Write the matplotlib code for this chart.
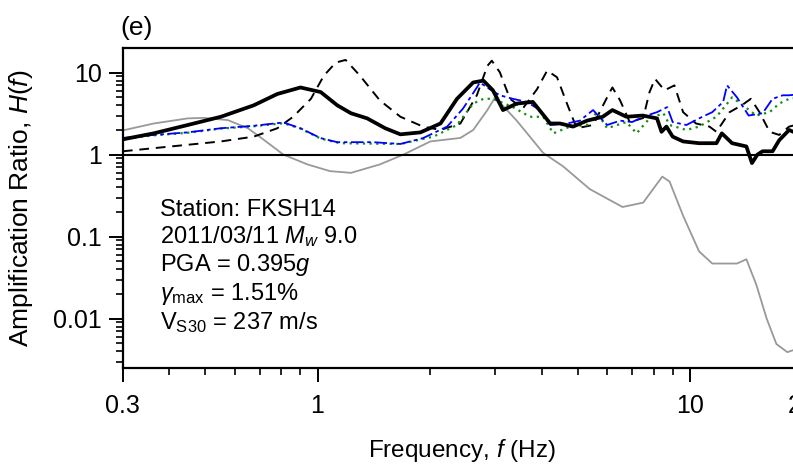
import matplotlib
matplotlib.use("Agg")
import matplotlib.pyplot as plt
from matplotlib.ticker import FixedLocator, NullFormatter

plt.rcParams['font.family'] = ['Liberation Sans', 'DejaVu Sans']
plt.rcParams['mathtext.fontset'] = 'custom'
plt.rcParams['mathtext.rm'] = 'Liberation Sans'
plt.rcParams['mathtext.it'] = 'Liberation Sans:italic'

# observed (thick black)
f_obs = [0.296, 0.363, 0.448, 0.55, 0.674, 0.78, 0.9, 1.02, 1.13, 1.23, 1.36, 1.52, 1.67,
         1.89, 2.14, 2.37, 2.62, 2.79, 2.96, 3.15, 3.43, 3.79, 4.22, 4.48, 4.86, 5.3, 5.84,
         6.2, 6.76, 7.48, 8.17, 8.4, 8.66, 9.0, 9.6, 10.6, 11.8, 12.2, 13.0, 14.2, 14.7,
         15.2, 15.7, 16.7, 17.4, 18.5, 19.5]
h_obs = [1.52, 1.82, 2.3, 2.9, 4.0, 5.5, 6.6, 5.8, 4.0, 3.2, 2.77, 2.1, 1.77,
         1.87, 2.4, 4.8, 7.6, 8.0, 6.1, 3.5, 4.2, 4.4, 2.4, 2.4, 2.2, 2.6, 2.9,
         3.5, 2.9, 3.0, 2.77, 1.9, 2.2, 1.66, 1.45, 1.38, 1.38, 1.82, 1.38, 1.26, 0.79,
         1.0, 1.1, 1.1, 1.5, 2.0, 1.8]

# 1D linear (dashed black)
f_lin = [0.3, 0.363, 0.448, 0.55, 0.674, 0.78, 0.86, 0.96, 1.04, 1.12, 1.19, 1.30, 1.47,
         1.67, 1.92, 2.14, 2.42, 2.68, 2.86, 2.94, 3.09, 3.29, 3.56, 3.89, 4.14, 4.4, 4.68,
         4.97, 5.5, 6.1, 6.2, 6.5, 6.9, 7.5, 7.8, 8.07, 8.56, 9.1, 9.6, 10.4, 11.3, 11.8,
         12.8, 13.8, 14.6, 15.4, 16.4, 17.4, 18.5, 20.0]
h_lin = [1.1, 1.2, 1.32, 1.45, 1.66, 2.1, 2.9, 4.8, 9.2, 13.3, 14.3, 9.2, 4.6,
         2.9, 2.2, 2.0, 2.4, 5.3, 12.1, 14.0, 10.1, 4.8, 3.65, 6.3, 10.6, 8.8, 4.2,
         2.1, 2.3, 5.8, 6.6, 4.6, 2.5, 2.8, 5.8, 8.4, 6.1, 7.0, 3.3, 2.4, 2.2, 1.9,
         3.3, 4.0, 4.8, 3.3, 1.9, 1.74, 2.2, 2.4]

# equivalent linear (blue dash-dot)
f_eql = [0.296, 0.363, 0.448, 0.55, 0.674, 0.81, 0.9, 1.02, 1.13, 1.41, 1.67, 1.92, 2.23,
         2.46, 2.68, 2.73, 2.9, 3.09, 3.35, 3.65, 3.96, 4.22, 4.68, 5.07, 5.5, 6.0, 6.5,
         7.0, 7.66, 8.17, 8.7, 9.0, 9.8, 10.6, 11.5, 12.3, 12.6, 13.4, 14.4, 15.7, 16.7,
         17.8, 18.5, 20.0]
h_eql = [1.59, 1.74, 1.87, 2.1, 2.25, 2.47, 2.1, 1.59, 1.42, 1.42, 1.35, 1.59, 2.2,
         3.65, 6.6, 7.6, 6.3, 5.3, 4.8, 4.4, 3.5, 2.3, 2.4, 2.6, 3.5, 2.3, 2.6,
         2.5, 3.0, 3.3, 3.8, 2.5, 2.3, 2.77, 3.3, 4.4, 7.0, 5.0, 3.0, 3.2, 4.8,
         5.3, 5.3, 5.5]

# nonlinear (green dotted)
f_nl = [0.296, 0.363, 0.448, 0.55, 0.674, 0.81, 0.9, 1.02, 1.15, 1.67, 2.05, 2.37, 2.62,
        2.79, 2.96, 3.35, 3.72, 4.04, 4.3, 4.77, 5.3, 5.63, 6.0, 6.76, 7.2, 7.8, 8.5,
        8.83, 9.8, 10.6, 11.8, 12.5, 13.0, 13.9, 15.1, 16.4, 17.4, 18.5, 20.0]
h_nl = [1.55, 1.72, 1.85, 2.08, 2.22, 2.42, 2.08, 1.57, 1.38, 1.35, 1.66, 2.3, 4.2,
        4.8, 4.8, 3.8, 2.9, 2.9, 1.82, 2.2, 2.3, 3.3, 2.1, 2.5, 1.82, 2.77, 3.2,
        2.3, 2.0, 2.2, 2.9, 4.0, 5.0, 4.0, 3.0, 3.3, 4.2, 4.8, 5.0]

# theoretical transfer function (gray)
f_th = [0.296, 0.363, 0.448, 0.495, 0.574, 0.65, 0.717, 0.81, 0.94, 1.08, 1.23, 1.47,
        1.70, 2.01, 2.42, 2.62, 2.86, 3.0, 3.43, 4.04, 4.57, 5.39, 6.6, 7.5, 8.44, 8.83,
        9.6, 10.6, 11.5, 13.4, 14.2, 15.1, 16.1, 17.1, 18.3, 18.9, 20.0]
h_th = [1.95, 2.4, 2.77, 2.81, 2.64, 2.1, 1.52, 1.0, 0.76, 0.63, 0.6, 0.76,
        1.0, 1.45, 1.6, 2.0, 3.5, 5.0, 2.6, 1.05, 0.72, 0.38, 0.23, 0.26, 0.54, 0.47,
        0.18, 0.066, 0.047, 0.047, 0.053, 0.026, 0.010, 0.0049, 0.0039, 0.0041, 0.0045]

x_major = [0.3, 1, 10, 20]
x_major_labels = ["0.3", "1", "10", "20"]
y_major = [10, 1, 0.1, 0.01]
y_major_labels = ["10", "1", "0.1", "0.01"]

fig = plt.figure(figsize=(7.93, 4.66), dpi=100)
ax = fig.add_axes([0.155, 0.2103, 0.856, 0.6867])

ax.plot(f_th, h_th, color="#999999", lw=1.3)
ax.plot(f_lin, h_lin, color="black", lw=1.4, ls=(0, (5, 3.5)))
ax.plot(f_nl, h_nl, color="#109010", lw=1.6, ls=(0, (1, 2)))
ax.plot(f_eql, h_eql, color="blue", lw=1.3, ls=(0, (7, 2, 2, 2)))
ax.plot(f_obs, h_obs, color="black", lw=2.7)
ax.axhline(1, color="black", lw=1.5)

ax.set_xscale("log")
ax.set_yscale("log")
ax.set_xlim(0.3, 20)
ax.set_ylim(0.0025, 20)

ax.xaxis.set_major_locator(FixedLocator(x_major))
ax.set_xticklabels(x_major_labels)
x_minor = [v * d for d in (0.1, 1, 10) for v in range(2, 10)]
x_minor = [v for v in x_minor if 0.3 < v < 20 and v not in (1, 10)]
ax.xaxis.set_minor_locator(FixedLocator(x_minor))
ax.xaxis.set_minor_formatter(NullFormatter())

ax.yaxis.set_major_locator(FixedLocator(y_major))
ax.set_yticklabels(y_major_labels)
y_minor = [v * d for d in (0.001, 0.01, 0.1, 1, 10) for v in range(2, 10)]
y_minor = [v for v in y_minor if 0.0025 < v < 20]
ax.yaxis.set_minor_locator(FixedLocator(y_minor))
ax.yaxis.set_minor_formatter(NullFormatter())

ax.tick_params(which="major", direction="out", length=10, width=1.4, labelsize=18)
ax.tick_params(axis="x", which="major", pad=9)
ax.tick_params(axis="y", which="major", pad=5)
ax.tick_params(which="minor", direction="out", length=5, width=1.2)
for s in ax.spines.values():
    s.set_linewidth(1.6)

ax.set_xlabel("Frequency, $f$ (Hz)", fontsize=17.5)
ax.xaxis.set_label_coords(0.5, -0.215)
ax.set_ylabel("Amplification Ratio, $H$($f$)", fontsize=19)
ax.yaxis.set_label_coords(-0.13, 0.5)

fig.text(0.152, 0.94, "(e)", fontsize=19, ha="left", va="center")

info = ["Station: FKSH14",
        "2011/03/11 $M_w$ 9.0",
        "PGA = 0.395$g$",
        r"$\gamma_{\mathrm{max}}$ = 1.51%",
        r"V$_{\mathrm{S30}}$ = 237 m/s"]
info_y = [210, 237, 265, 294, 323]
for t, yp in zip(info, info_y):
    ax.text(37 / 679, (368 - yp) / 320, t, transform=ax.transAxes, fontsize=17,
            ha="left", va="center")

fig.savefig("out.png", dpi=100)
